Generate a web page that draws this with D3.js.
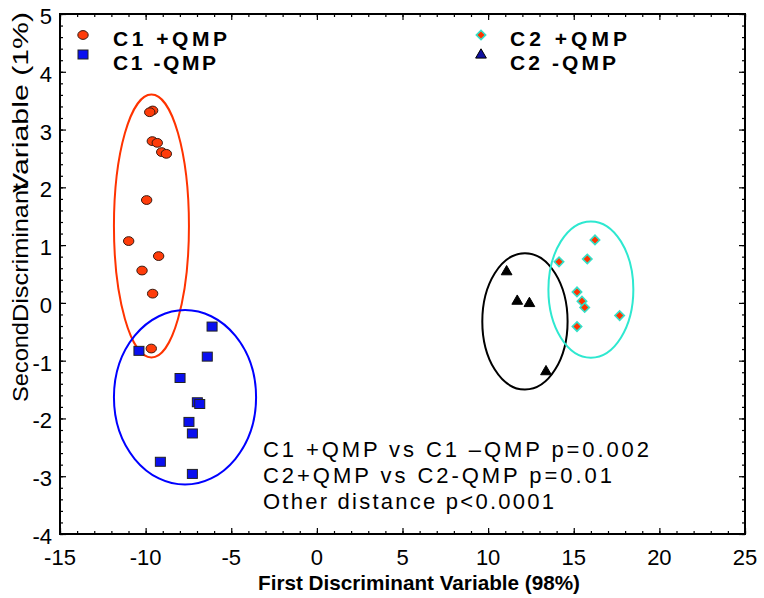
<!DOCTYPE html>
<html><head><meta charset="utf-8">
<script src="https://cdn.jsdelivr.net/npm/d3@7"></script>
<style>
html,body{margin:0;padding:0;background:#fff;}
text{font-family:"Liberation Sans",Arial,sans-serif;}
</style></head>
<body><svg id="c" width="764" height="598"></svg>
<script>
// ---- data ----
const c1Plus = [[-9.59,3.33],[-9.76,3.30],[-9.61,2.80],[-9.32,2.77],[-9.06,2.61],[-8.79,2.58],[-9.94,1.78],[-10.99,1.07],[-9.24,0.81],[-10.21,0.56],[-9.59,0.16],[-9.67,-0.79]];
const c1Minus = [[-10.39,-0.83],[-6.12,-0.41],[-6.40,-0.93],[-7.99,-1.30],[-6.98,-1.72],[-6.84,-1.75],[-7.47,-2.06],[-7.27,-2.26],[-9.14,-2.75],[-7.27,-2.96]];
const c2Plus = [[16.24,1.09],[14.14,0.71],[15.79,0.76],[15.19,0.19],[15.48,0.03],[15.64,-0.08],[17.68,-0.22],[15.19,-0.41]];
const c2Minus = [[11.08,0.54],[11.70,0.03],[12.41,-0.01],[13.38,-1.19]];
// ellipses: [cx, cy, rx, ry]
const ellC1Plus = [-9.66,1.33,2.19,2.275];
const ellC1Minus = [-7.70,-1.635,4.15,1.51];
const ellC2Minus = [12.15,-0.32,2.49,1.18];
const ellC2Plus = [16.0,0.23,2.48,1.18];
const xTicks = [-15,-10,-5,0,5,10,15,20,25];
const yTicks = [5,4,3,2,1,0,-1,-2,-3,-4];
const legendLabels = ["C1 +QMP","C1 -QMP","C2 +QMP","C2 -QMP"];
const notes = ["C1 +QMP vs C1 \u2013QMP p=0.002","C2+QMP vs C2-QMP p=0.01","Other distance p<0.0001"];
const xTitle = "First Discriminant Variable (98%)";
const yTitleParts = ["Second","Discriminant","Variable (1%)"];

// ---- scales ----
const svg = d3.select("#c");
const x = d3.scaleLinear().domain([-15,25]).range([60,745]);
const y = d3.scaleLinear().domain([-4,5]).range([534,14]);
const xMinor = d3.range(-15,25.01,1);
const yMinor = d3.range(-4,5.001,0.2).map(v=>+v.toFixed(2));

// ---- axes (inward ticks) ----
function axisG(ax, tr){ const g = svg.append("g").attr("transform",tr).call(ax);
  g.select(".domain").remove(); g.selectAll("line").attr("stroke","#000").attr("stroke-width",1.2);
  g.selectAll("text").remove(); return g; }
axisG(d3.axisBottom(x).tickValues(xMinor).tickSize(-3),`translate(0,534)`);
axisG(d3.axisBottom(x).tickValues(xTicks).tickSize(-6),`translate(0,534)`);
axisG(d3.axisTop(x).tickValues(xMinor).tickSize(-3),`translate(0,14)`);
axisG(d3.axisTop(x).tickValues(xTicks).tickSize(-6),`translate(0,14)`);
axisG(d3.axisLeft(y).tickValues(yMinor).tickSize(-3),`translate(60,0)`);
axisG(d3.axisLeft(y).tickValues(yTicks).tickSize(-6),`translate(60,0)`);
axisG(d3.axisRight(y).tickValues(yMinor).tickSize(-3),`translate(745,0)`);
axisG(d3.axisRight(y).tickValues(yTicks).tickSize(-6),`translate(745,0)`);

svg.append("rect").attr("x",x(-15)).attr("y",y(5)).attr("width",x(25)-x(-15)).attr("height",y(-4)-y(5))
  .attr("fill","none").attr("stroke","#000").attr("stroke-width",2);

// tick labels
svg.append("g").selectAll("text").data(xTicks).join("text")
  .attr("x",d=>x(d)).attr("y",565).attr("text-anchor","middle").attr("font-size",22).text(d=>d);
svg.append("g").selectAll("text").data(yTicks).join("text")
  .attr("x",52).attr("y",d=>y(d)+10).attr("text-anchor","end").attr("font-size",22).text(d=>d);

// axis titles
svg.append("text").attr("x",258).attr("y",590).attr("font-size",21).attr("font-weight","bold")
  .attr("textLength",322).attr("lengthAdjust","spacingAndGlyphs").text(xTitle);
const yt = [[402,80],[322,139],[193,181]];
yTitleParts.forEach((t,i)=>{
  svg.append("text").attr("transform",`translate(28,${yt[i][0]}) rotate(-90)`).attr("font-size",22)
    .attr("textLength",yt[i][1]).attr("lengthAdjust","spacingAndGlyphs").text(t);
});

// ellipses
function ell(e,color){ svg.append("ellipse").attr("cx",x(e[0])).attr("cy",y(e[1]))
  .attr("rx",x(e[0]+e[2])-x(e[0])).attr("ry",y(e[1])-y(e[1]+e[3]))
  .attr("fill","none").attr("stroke",color).attr("stroke-width",2); }
ell(ellC1Plus,"#ff3300"); ell(ellC1Minus,"#0000ff"); ell(ellC2Minus,"#000"); ell(ellC2Plus,"#2ee8d0");

// markers
const mk = {
  circle:(g,px,py)=>g.append("ellipse").attr("cx",px).attr("cy",py).attr("rx",5.2).attr("ry",4.4).attr("fill","#ff3c0a").attr("stroke","#3a1a10").attr("stroke-width",1),
  square:(g,px,py)=>g.append("rect").attr("x",px-5).attr("y",py-4.5).attr("width",10).attr("height",9).attr("fill","#0a10f0").attr("stroke","#222").attr("stroke-width",1),
  diamond:(g,px,py)=>g.append("rect").attr("x",-3.3).attr("y",-3.3).attr("width",6.6).attr("height",6.6).attr("transform",`translate(${px},${py}) rotate(45)`).attr("fill","#ff3300").attr("stroke","#33e0c8").attr("stroke-width",1.6),
  triangle:(g,px,py,f)=>g.append("path").attr("d",d3.symbol(d3.symbolTriangle,50)()).attr("transform",`translate(${px},${py})`).attr("fill",f||"#000").attr("stroke","#000").attr("stroke-width",1)
};
const pts = svg.append("g");
c1Plus.forEach(d=>mk.circle(pts,x(d[0]),y(d[1])));
c1Minus.forEach(d=>mk.square(pts,x(d[0]),y(d[1])));
c2Plus.forEach(d=>mk.diamond(pts,x(d[0]),y(d[1])));
c2Minus.forEach(d=>mk.triangle(pts,x(d[0]),y(d[1])));

// legend
const lg = svg.append("g");
mk.circle(lg,83,35); mk.square(lg,83,54.5); mk.diamond(lg,481,35); mk.triangle(lg,481,55,"#1010a0");
const lpos = [[113,46,114],[113,69.5,103],[510,46,117],[510,69.5,106]];
legendLabels.forEach((t,i)=>{
  lg.append("text").attr("x",lpos[i][0]).attr("y",lpos[i][1]).attr("font-size",21).attr("font-weight","bold")
    .attr("textLength",lpos[i][2]).attr("lengthAdjust","spacing").text(t);
});

// notes
const nw = [386,349,291];
notes.forEach((t,i)=>{
  svg.append("text").attr("x",263).attr("y",456.7+i*26).attr("font-size",22)
    .attr("textLength",nw[i]).attr("lengthAdjust","spacing").text(t);
});
</script></body></html>
